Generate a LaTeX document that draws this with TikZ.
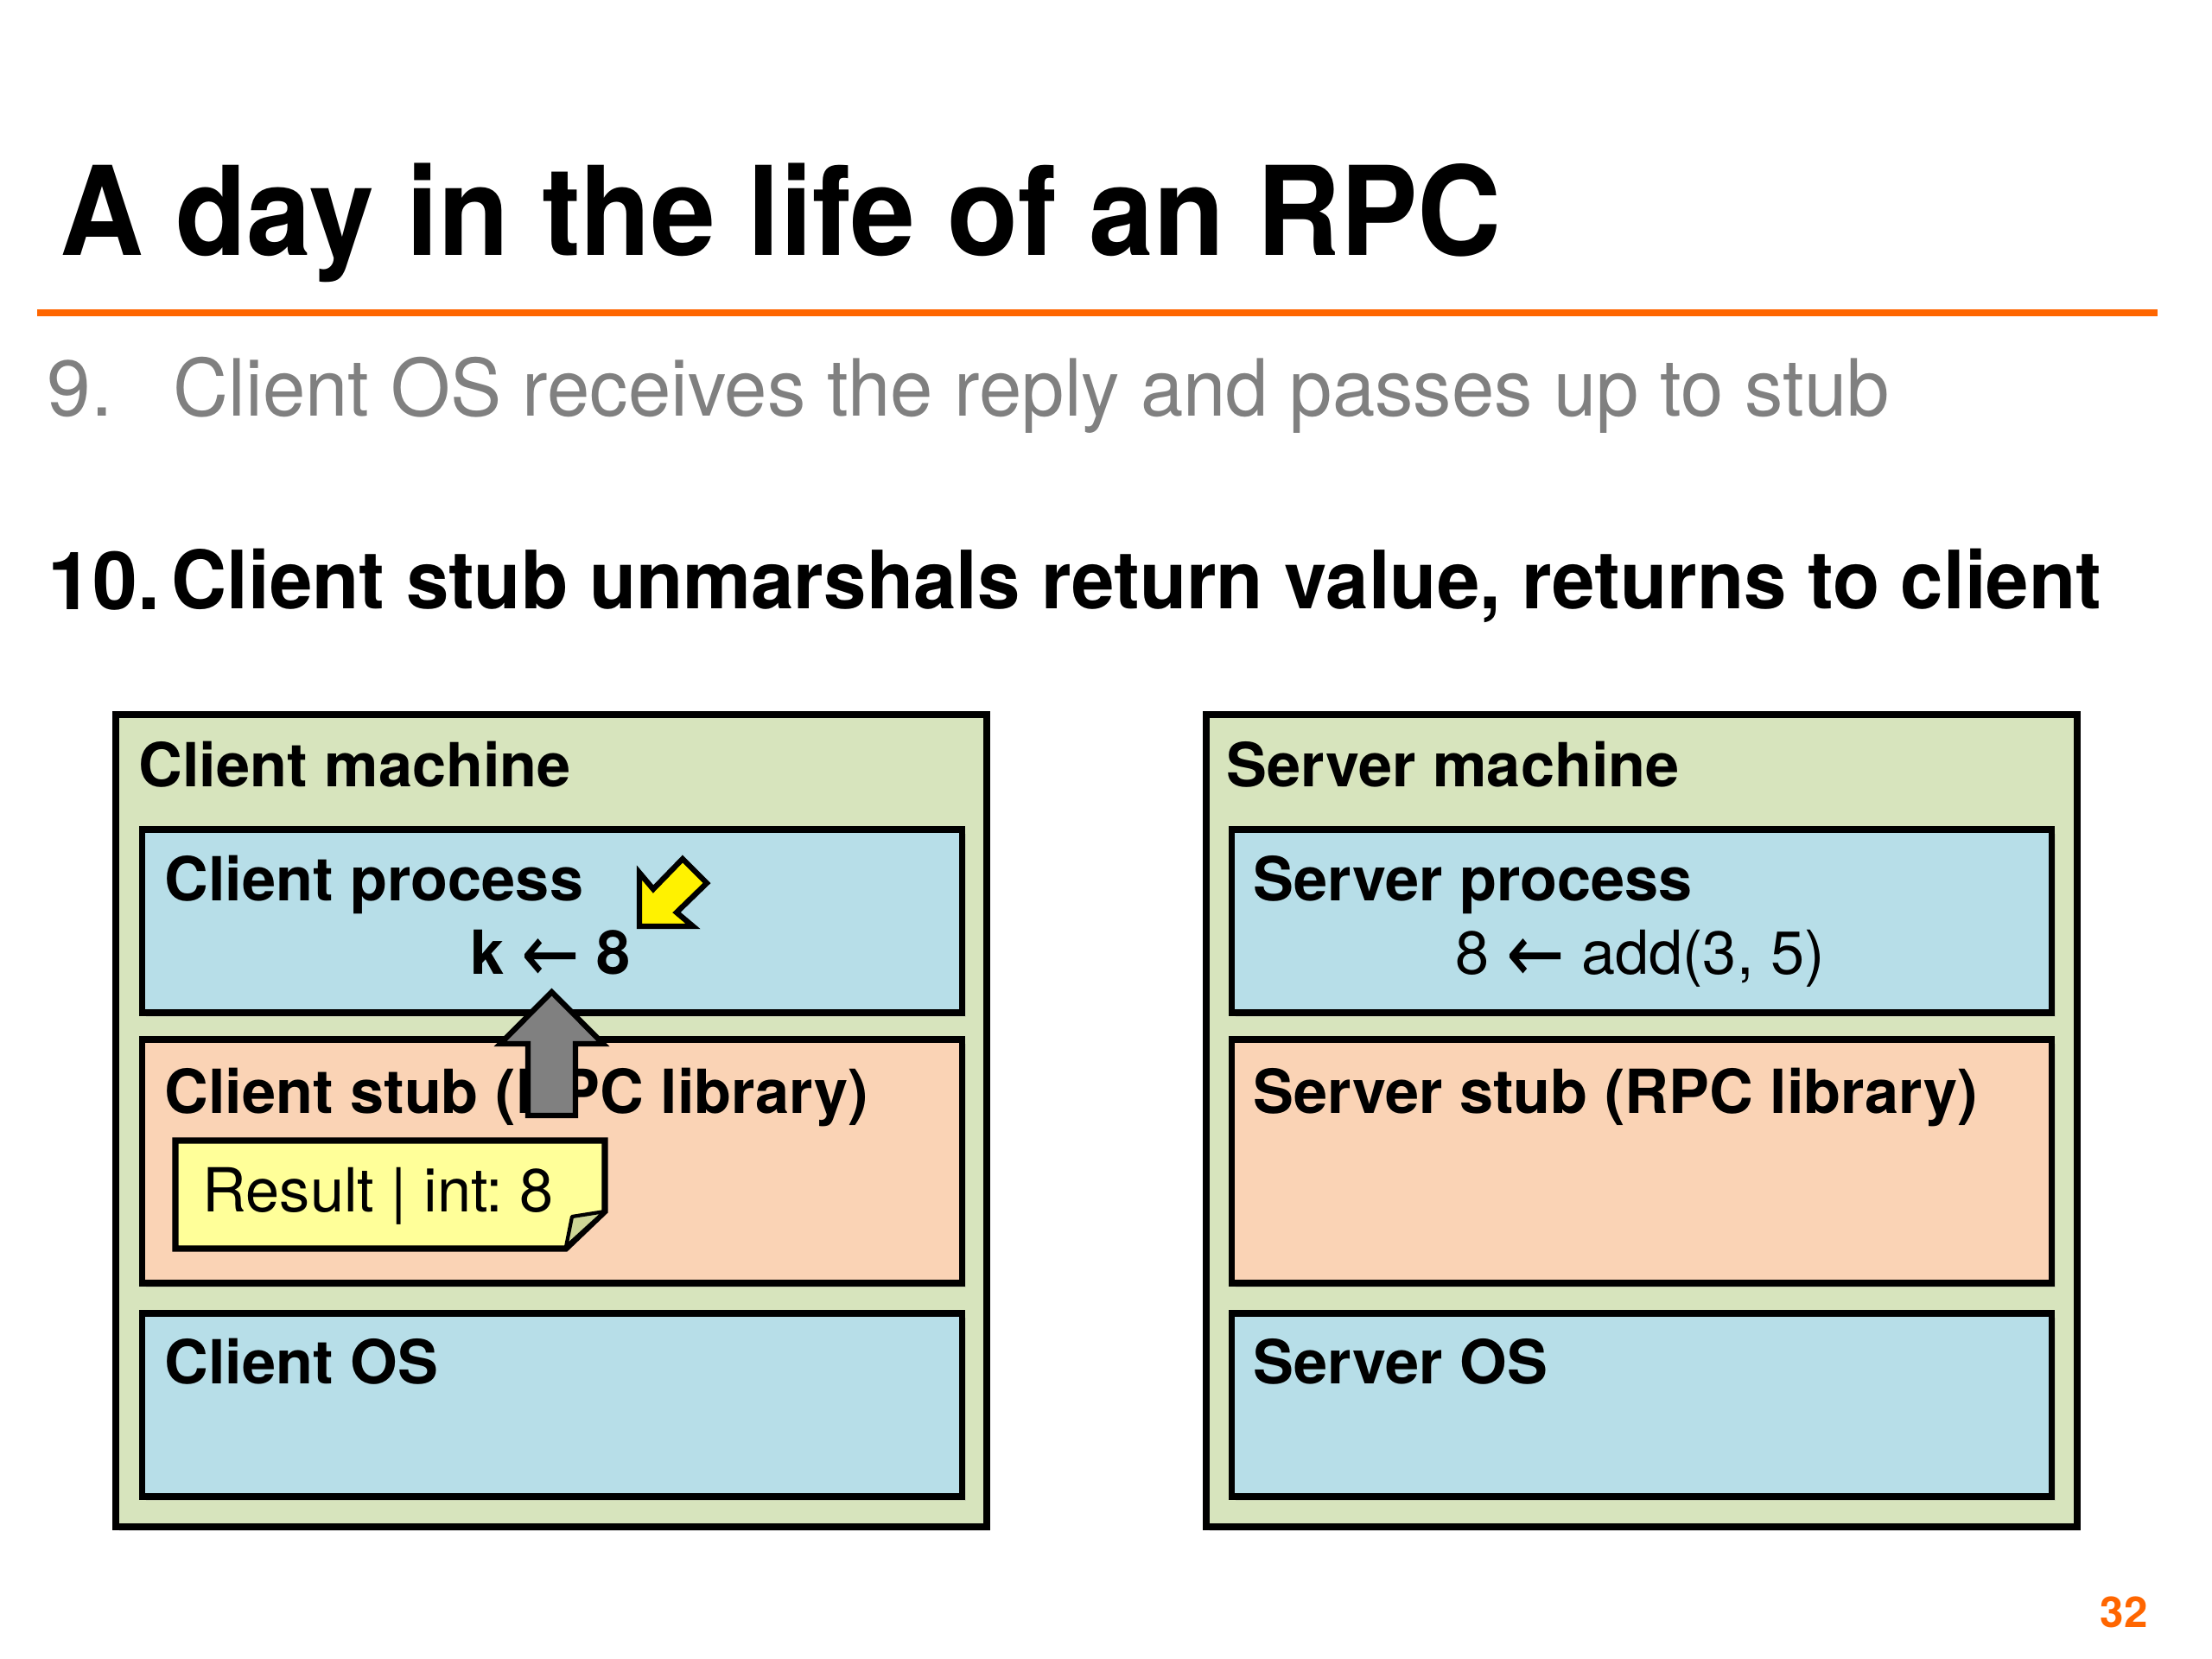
\documentclass[tikz,border=0pt]{standalone}
\usepackage{fontspec}
\setmainfont{TeX Gyre Heros}
\newfontfamily\arrowfont{DejaVu Sans}
\usepackage{graphicx}
\usetikzlibrary{shadows}
\definecolor{machinegreen}{RGB}{215,228,189}
\definecolor{procblue}{RGB}{183,222,232}
\definecolor{stubpeach}{RGB}{250,211,181}
\definecolor{noteyellow}{RGB}{255,255,153}
\definecolor{flapgreen}{RGB}{205,214,150}
\definecolor{slideorange}{RGB}{255,102,0}
\definecolor{stepgray}{RGB}{128,128,128}
\newcommand{\fitw}[2]{\resizebox{#1}{\height}{#2}}
\newcommand{\getsarrow}{\raisebox{-0.13em}{\scalebox{1.15}[1.35]{\arrowfont\mdseries ←}}}
\tikzstyle{layer}=[shape=rectangle,draw=black,line width=2.2pt,inner sep=0pt,minimum width=9.49cm,drop shadow={shadow xshift=0.04cm,shadow yshift=-0.05cm,opacity=0.18}]
\tikzstyle{machine}=[layer,fill=machinegreen,minimum width=10.08cm,minimum height=9.40cm]
\tikzstyle{process}=[layer,fill=procblue,minimum height=2.12cm]
\tikzstyle{stub}=[layer,fill=stubpeach,minimum height=2.82cm]
\tikzstyle{osbox}=[layer,fill=procblue,minimum height=2.12cm]
\tikzstyle{boxlabel}=[anchor=base west,inner sep=0pt,font=\fontsize{20}{24}\selectfont\bfseries]
\tikzstyle{codeline}=[anchor=base,inner sep=0pt,font=\fontsize{20}{24}\selectfont]
\tikzstyle{note}=[draw=black,line width=2pt,line join=miter,fill=noteyellow]
\tikzstyle{flap}=[draw=black,line width=1.2pt,line join=round,fill=flapgreen]
\tikzstyle{liftarrow}=[draw=black,line width=1.8pt,line join=miter,fill=stepgray]
\tikzstyle{hintarrow}=[draw=black,line width=1.8pt,line join=miter,fill=yellow]

\begin{document}
\frenchspacing
\begin{tikzpicture}[]

		\useasboundingbox (0,0) rectangle (25.6,-19.2);
		\fill[white] (0,0) rectangle (25.6,-19.2);

		% heading
		\node[anchor=base west,inner sep=0pt,font=\fontsize{40.7}{48}\selectfont\bfseries] (title) at (0.69,-2.96) {\fitw{16.68cm}{A day in the life of an RPC}};
		\coordinate (rulel) at (0.43,-3.62);
		\coordinate (ruler) at (24.97,-3.62);
		\draw[slideorange,line width=2pt] (rulel) -- (ruler);

		% steps
		\node[anchor=base west,inner sep=0pt,text=stepgray,font=\fontsize{26}{31}\selectfont] (n9) at (0.54,-4.82) {9.};
		\node[anchor=base west,inner sep=0pt,text=stepgray,font=\fontsize{26}{31}\selectfont] (s9) at (2.00,-4.82) {\fitw{19.86cm}{Client OS receives the reply and passes up to stub}};
		\node[anchor=base west,inner sep=0pt,font=\fontsize{26.5}{32}\selectfont\bfseries] (n10) at (0.55,-7.05) {10.};
		\node[anchor=base west,inner sep=0pt,font=\fontsize{26.5}{32}\selectfont\bfseries] (s10) at (1.98,-7.05) {\fitw{22.33cm}{Client stub unmarshals return value, returns to client}};

		% client machine
		\node[machine] (cm) at (6.38,-12.97) {};
		\node[process] (cp) at (6.39,-10.66) {};
		\node[stub] (cs) at (6.39,-13.44) {};
		\node[osbox] (cos) at (6.39,-16.26) {};
		\node[boxlabel] (cml) at (1.60,-9.10) {Client machine};
		\node[boxlabel] (cpl) at (1.90,-10.42) {Client process};
		\node[codeline,font=\fontsize{20}{24}\selectfont\bfseries] (ck) at (6.37,-11.27) {k \getsarrow{} 8};
		\node[boxlabel] (csl) at (1.90,-12.88) {Client stub (RPC library)};
		\node[boxlabel] (cosl) at (1.90,-16.01) {Client OS};

		% server machine
		\node[machine] (sm) at (19.00,-12.97) {};
		\node[process] (sp) at (19.00,-10.66) {};
		\node[stub] (ss) at (19.00,-13.44) {};
		\node[osbox] (sos) at (19.00,-16.26) {};
		\node[boxlabel] (sml) at (14.19,-9.10) {Server machine};
		\node[boxlabel] (spl) at (14.50,-10.42) {Server process};
		\node[codeline] (sadd) at (18.98,-11.27) {8 \getsarrow{} add(3, 5)};
		\node[boxlabel] (ssl) at (14.50,-12.88) {Server stub (RPC library)};
		\node[boxlabel] (sosl) at (14.50,-16.01) {Server OS};

		% result message
		\draw[note] (2.03,-13.20) -- (7.00,-13.20) -- (7.00,-14.02) -- (6.55,-14.45) -- (2.03,-14.45) -- cycle;
		\draw[flap] (7.00,-14.02) -- (6.62,-14.08) -- (6.55,-14.43) -- cycle;
		\node[codeline,anchor=base west] (result) at (2.34,-14.02) {Result | int: 8};

		% arrows
		\draw[liftarrow] (6.385,-11.48) -- (6.98,-12.08) -- (6.66,-12.08) -- (6.66,-12.91) -- (6.11,-12.91) -- (6.11,-12.08) -- (5.79,-12.08) -- cycle;
		\coordinate (ytip) at (7.40,-10.72);
		\draw[hintarrow] (ytip) -- +(0,0.62) -- +(0.16,0.43) -- +(0.50,0.78) -- +(0.78,0.50) -- +(0.43,0.16) -- +(0.62,0) -- cycle;

		% page number
		\node[anchor=base west,inner sep=0pt,text=slideorange,font=\fontsize{14}{17}\selectfont\bfseries] (page) at (24.30,-18.83) {32};

\end{tikzpicture}
\end{document}
